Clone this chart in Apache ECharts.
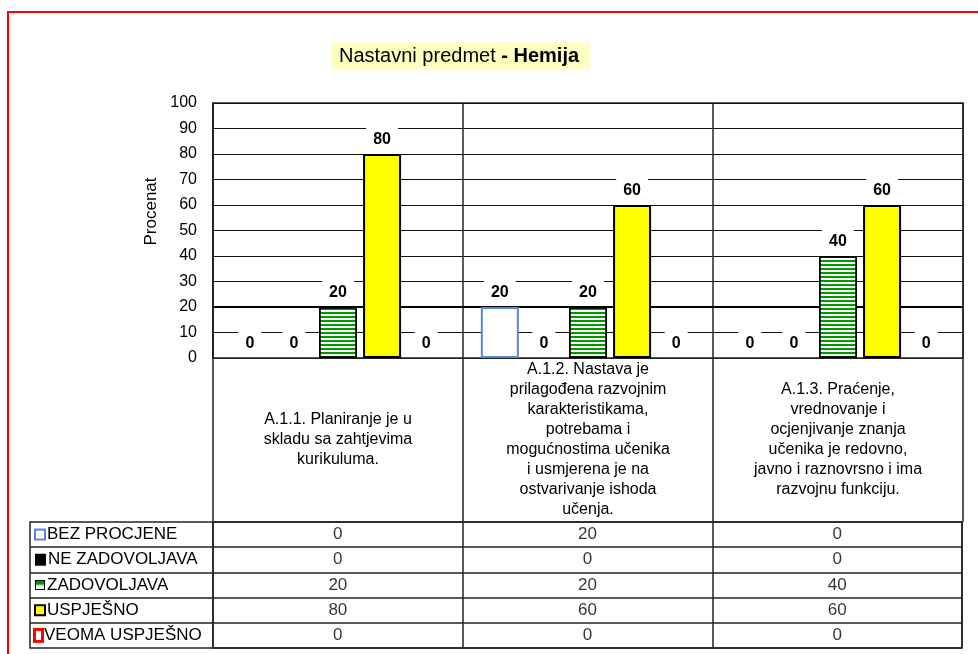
<!DOCTYPE html>
<html>
<head>
<meta charset="utf-8">
<script src="https://cdn.jsdelivr.net/npm/echarts@6/dist/echarts.min.js"></script>
<style>
  html, body { margin: 0; padding: 0; background: #fff; }
  #wrap { position: relative; width: 978px; height: 654px; overflow: hidden; }
  #chart { width: 978px; height: 654px; }
  #frame { position: absolute; left: 7px; top: 11px; width: 1000px; height: 700px;
           border-top: 2px solid #ff0000; border-left: 2px solid #ff0000; pointer-events: none; }
</style>
</head>
<body>
<div id="wrap"><div id="chart"></div><div id="frame"></div></div>
<script>
// ---- data ----
const categories = [
  'A.1.1. Planiranje je u\nskladu sa zahtjevima\nkurikuluma.',
  'A.1.2. Nastava je\nprilagođena razvojnim\nkarakteristikama,\npotrebama i\nmogućnostima učenika\ni usmjerena je na\nostvarivanje ishoda\nučenja.',
  'A.1.3. Praćenje,\nvrednovanje i\nocjenjivanje znanja\nučenika je redovno,\njavno i raznovrsno i ima\nrazvojnu funkciju.'
];
const seriesNames = ['BEZ PROCJENE', 'NE ZADOVOLJAVA', 'ZADOVOLJAVA', 'USPJEŠNO', 'VEOMA USPJEŠNO'];
const bezProcjene   = [0, 20, 0];
const neZadovoljava = [0, 0, 0];
const zadovoljava   = [20, 20, 40];
const uspjesno      = [80, 60, 60];
const veomaUspjesno = [0, 0, 0];
const yTicks = { min: 0, max: 100, interval: 10 };
const thresholdLine = 20;
const titleMain = 'Nastavni predmet ';
const titleBold = '- Hemija';
const yAxisName = 'Procenat';

// ---- styles ----
const stripe = document.createElement('canvas');
stripe.width = 4; stripe.height = 4;
(function () {
  const c = stripe.getContext('2d');
  c.fillStyle = '#ffffff'; c.fillRect(0, 0, 4, 4);
  c.fillStyle = '#009a00'; c.fillRect(0, 0, 4, 2);
})();
const FONT = 'Arial, "Liberation Sans", sans-serif';
const seriesValues = [bezProcjene, neZadovoljava, zadovoljava, uspjesno, veomaUspjesno];
const seriesStyles = [
  { color: '#ffffff', borderColor: '#5b86d6', borderWidth: 2 },
  { color: '#000000', borderColor: '#000000', borderWidth: 1.5 },
  { color: { image: stripe, repeat: 'repeat' }, borderColor: '#000000', borderWidth: 1.8 },
  { color: '#ffff00', borderColor: '#000000', borderWidth: 2 },
  { color: '#ff0000', borderColor: '#000000', borderWidth: 1.5 }
];
const iconStyles = [
  { width: 8, height: 8, borderColor: '#5b86d6', borderWidth: 2, backgroundColor: '#ffffff' },
  { width: 9, height: 10, borderColor: '#000000', borderWidth: 1, backgroundColor: '#000000' },
  { width: 8, height: 8, borderColor: '#000000', borderWidth: 2, backgroundColor: { image: stripe, repeat: 'repeat' } },
  { width: 8, height: 8, borderColor: '#000000', borderWidth: 2, backgroundColor: '#ffff00' },
  { width: 5, height: 9, borderColor: '#ff0000', borderWidth: 3, backgroundColor: '#ffffff' }
];

const rich = { t: { fontSize: 17, fontFamily: FONT, color: '#000', padding: [0, 0, 0, 3] } };
iconStyles.forEach((s, i) => { rich['i' + i] = s; });

const barSeries = seriesNames.map((name, si) => ({
  name: name,
  type: 'bar',
  xAxisIndex: 0, yAxisIndex: 0,
  barWidth: 38,
  barGap: '16%',
  itemStyle: seriesStyles[si],
  data: seriesValues[si].map(v => v === 0 ? { value: v, itemStyle: { borderWidth: 0 } } : v),
  label: {
    show: true, position: 'top', distance: 4,
    fontSize: 16, fontWeight: 'bold', fontFamily: FONT, color: '#000',
    backgroundColor: '#ffffff', padding: [6, 7, 2, 7]
  },
  markLine: si === 0 ? {
    z: 1, silent: true, symbol: 'none', label: { show: false },
    lineStyle: { color: '#000', width: 2, type: 'solid' },
    data: [{ yAxis: thresholdLine }]
  } : undefined
}));

const tableData = [];
seriesNames.forEach((name, si) => {
  categories.forEach((cat, ci) => { tableData.push([ci, si, seriesValues[si][ci]]); });
});

const option = {
  animation: false,
  backgroundColor: '#ffffff',
  title: {
    left: 331, top: 42,
    text: '{a|' + titleMain + '}{b|' + titleBold + '}',
    backgroundColor: '#ffffc0',
    padding: [4, 11, 3, 8],
    textStyle: {
      fontWeight: 'normal',
      rich: {
        a: { fontSize: 20, fontFamily: FONT, fontWeight: 'normal', color: '#000', lineHeight: 21 },
        b: { fontSize: 20, fontFamily: FONT, fontWeight: 'bold', color: '#000', lineHeight: 21 }
      }
    }
  },
  grid: [
    { left: 213, right: 15, top: 103, bottom: 296, show: true, borderColor: '#222', borderWidth: 1.5, backgroundColor: 'transparent' },
    { left: 213, right: 16, top: 522, bottom: 6, show: true, borderColor: '#222', borderWidth: 1.5, backgroundColor: 'transparent' }
  ],
  xAxis: [
    {
      gridIndex: 0, type: 'category', data: categories,
      axisLine: { show: true, lineStyle: { color: '#222', width: 1 } },
      axisTick: { show: true, interval: 0, length: 164, lineStyle: { color: '#222', width: 1.5 } },
      splitLine: { show: true, interval: 0, lineStyle: { color: '#222', width: 1.5 } },
      axisLabel: {
        interval: 0, margin: 82, verticalAlign: 'middle', align: 'center',
        fontSize: 16, lineHeight: 20, fontFamily: FONT, color: '#000'
      }
    },
    {
      gridIndex: 1, type: 'category', data: categories,
      axisLine: { show: false }, axisTick: { show: false }, axisLabel: { show: false },
      splitLine: { show: true, interval: 0, lineStyle: { color: '#222', width: 1.5 } }
    }
  ],
  yAxis: [
    {
      gridIndex: 0, type: 'value', min: yTicks.min, max: yTicks.max, interval: yTicks.interval,
      name: yAxisName, nameLocation: 'middle', nameGap: 52, nameRotate: 90,
      nameTextStyle: { fontSize: 17, fontFamily: FONT, color: '#000', padding: [0, 0, 0, 38] },
      axisLine: { show: true, lineStyle: { color: '#222', width: 1.5 } },
      axisTick: { show: false },
      axisLabel: { fontSize: 16, fontFamily: FONT, color: '#000', margin: 16 },
      splitLine: { show: true, lineStyle: { color: '#111', width: 1 } }
    },
    {
      gridIndex: 1, type: 'category', data: seriesNames, inverse: true, offset: 183,
      axisLine: { show: true, lineStyle: { color: '#222', width: 1.5 } },
      axisTick: { show: true, inside: true, interval: 0, length: 183, lineStyle: { color: '#222', width: 1.5 } },
      splitLine: { show: true, interval: 0, lineStyle: { color: '#222', width: 1.5 } },
      axisLabel: {
        inside: true, interval: 0, margin: 6, align: 'left',
        formatter: (v, i) => '{i' + i + '|}{t|' + v + '}',
        rich: rich
      }
    }
  ],
  series: barSeries.concat([{
    type: 'scatter', xAxisIndex: 1, yAxisIndex: 1,
    symbolSize: 1, itemStyle: { color: 'transparent' },
    silent: true,
    label: {
      show: true, position: 'inside', formatter: p => String(p.value[2]),
      fontSize: 17, fontFamily: FONT, color: '#000'
    },
    data: tableData
  }])
};

const chart = echarts.init(document.getElementById('chart'), null, { renderer: 'canvas' });
chart.setOption(option);
</script>
</body>
</html>
